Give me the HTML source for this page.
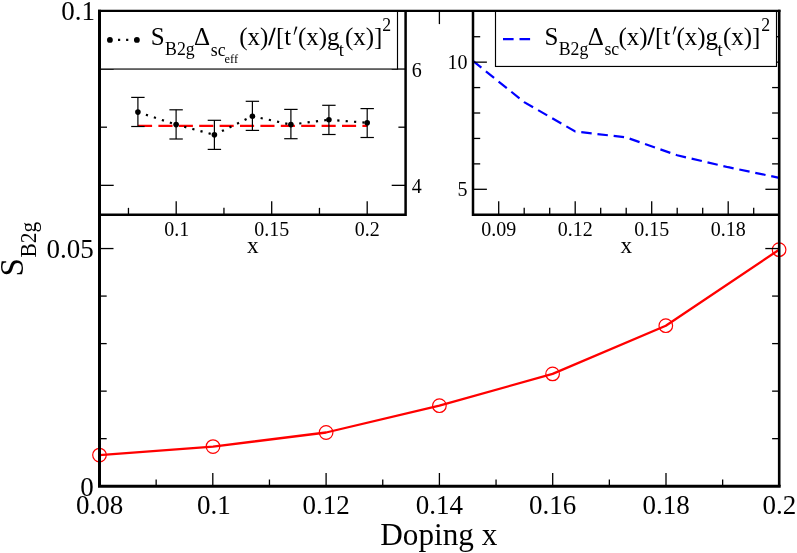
<!DOCTYPE html>
<html><head><meta charset="utf-8"><title>chart</title>
<style>html,body{margin:0;padding:0;background:#fff;}svg{display:block;will-change:transform;}</style></head>
<body>
<svg width="797" height="553" viewBox="0 0 797 553" font-family="'Liberation Serif', serif" fill="#000">
<rect width="797" height="553" fill="#fff"/>
<polyline fill="none" stroke="#f00" stroke-width="2.3" stroke-linejoin="round" points="99.5,455.1 213.0,446.6 326.1,432.5 439.4,405.7 552.6,373.9 665.8,325.7 779.1,249.7"/>
<circle cx="99.5" cy="455.1" r="6.8" fill="none" stroke="#f00" stroke-width="1.2"/>
<circle cx="213.0" cy="446.6" r="6.8" fill="none" stroke="#f00" stroke-width="1.2"/>
<circle cx="326.1" cy="432.5" r="6.8" fill="none" stroke="#f00" stroke-width="1.2"/>
<circle cx="439.4" cy="405.7" r="6.8" fill="none" stroke="#f00" stroke-width="1.2"/>
<circle cx="552.6" cy="373.9" r="6.8" fill="none" stroke="#f00" stroke-width="1.2"/>
<circle cx="665.8" cy="325.7" r="6.8" fill="none" stroke="#f00" stroke-width="1.2"/>
<circle cx="779.1" cy="249.7" r="6.8" fill="none" stroke="#f00" stroke-width="1.2"/>
<line x1="156.15" y1="486.20" x2="156.15" y2="479.50" stroke="#000" stroke-width="1.3" />
<line x1="212.80" y1="486.20" x2="212.80" y2="473.00" stroke="#000" stroke-width="1.3" />
<line x1="269.45" y1="486.20" x2="269.45" y2="479.50" stroke="#000" stroke-width="1.3" />
<line x1="326.10" y1="486.20" x2="326.10" y2="473.00" stroke="#000" stroke-width="1.3" />
<line x1="382.75" y1="486.20" x2="382.75" y2="479.50" stroke="#000" stroke-width="1.3" />
<line x1="439.40" y1="486.20" x2="439.40" y2="473.00" stroke="#000" stroke-width="1.3" />
<line x1="439.40" y1="10.90" x2="439.40" y2="24.10" stroke="#000" stroke-width="1.3" />
<line x1="496.05" y1="486.20" x2="496.05" y2="479.50" stroke="#000" stroke-width="1.3" />
<line x1="552.70" y1="486.20" x2="552.70" y2="473.00" stroke="#000" stroke-width="1.3" />
<line x1="609.35" y1="486.20" x2="609.35" y2="479.50" stroke="#000" stroke-width="1.3" />
<line x1="666.00" y1="486.20" x2="666.00" y2="473.00" stroke="#000" stroke-width="1.3" />
<line x1="722.65" y1="486.20" x2="722.65" y2="479.50" stroke="#000" stroke-width="1.3" />
<line x1="99.50" y1="438.67" x2="106.70" y2="438.67" stroke="#000" stroke-width="1.3" />
<line x1="779.30" y1="438.67" x2="772.10" y2="438.67" stroke="#000" stroke-width="1.3" />
<line x1="99.50" y1="391.14" x2="106.70" y2="391.14" stroke="#000" stroke-width="1.3" />
<line x1="779.30" y1="391.14" x2="772.10" y2="391.14" stroke="#000" stroke-width="1.3" />
<line x1="99.50" y1="343.61" x2="106.70" y2="343.61" stroke="#000" stroke-width="1.3" />
<line x1="779.30" y1="343.61" x2="772.10" y2="343.61" stroke="#000" stroke-width="1.3" />
<line x1="99.50" y1="296.08" x2="106.70" y2="296.08" stroke="#000" stroke-width="1.3" />
<line x1="779.30" y1="296.08" x2="772.10" y2="296.08" stroke="#000" stroke-width="1.3" />
<line x1="99.50" y1="248.55" x2="113.50" y2="248.55" stroke="#000" stroke-width="1.3" />
<line x1="779.30" y1="248.55" x2="765.30" y2="248.55" stroke="#000" stroke-width="1.3" />
<text x="99.50" y="514.10" font-size="27" text-anchor="middle" >0.08</text>
<text x="213.80" y="514.10" font-size="27" text-anchor="middle" >0.1</text>
<text x="326.10" y="514.10" font-size="27" text-anchor="middle" >0.12</text>
<text x="439.40" y="514.10" font-size="27" text-anchor="middle" >0.14</text>
<text x="552.70" y="514.10" font-size="27" text-anchor="middle" >0.16</text>
<text x="666.00" y="514.10" font-size="27" text-anchor="middle" >0.18</text>
<text x="779.30" y="514.10" font-size="27" text-anchor="middle" >0.2</text>
<text x="93.80" y="495.70" font-size="27" text-anchor="end" >0</text>
<text x="93.80" y="258.05" font-size="27" text-anchor="end" >0.05</text>
<text x="95.10" y="20.40" font-size="27" text-anchor="end" >0.1</text>
<text x="438.80" y="545.20" font-size="31.2" text-anchor="middle" >Doping x</text>
<g transform="translate(23.4,276.6) rotate(-90)"><text x="0" y="0" font-size="33">S</text></g>
<g transform="translate(36.0,257.4) rotate(-90) scale(0.955,1)"><text x="0" y="0" font-size="22.4">B2g</text></g>
<line x1="138.00" y1="125.80" x2="367.20" y2="125.80" stroke="#f00" stroke-width="2.2" stroke-dasharray="14.1 6.3"/>
<line x1="137.90" y1="112.10" x2="176.10" y2="124.60" stroke="#000" stroke-width="2.2" stroke-dasharray="2.2 6.2"/>
<line x1="176.10" y1="124.60" x2="214.40" y2="134.80" stroke="#000" stroke-width="2.2" stroke-dasharray="2.2 6.2"/>
<line x1="214.40" y1="134.80" x2="252.40" y2="116.20" stroke="#000" stroke-width="2.2" stroke-dasharray="2.2 6.2"/>
<line x1="252.40" y1="116.20" x2="290.90" y2="124.60" stroke="#000" stroke-width="2.2" stroke-dasharray="2.2 6.2"/>
<line x1="290.90" y1="124.60" x2="328.90" y2="119.70" stroke="#000" stroke-width="2.2" stroke-dasharray="2.2 6.2"/>
<line x1="328.90" y1="119.70" x2="367.20" y2="122.80" stroke="#000" stroke-width="2.2" stroke-dasharray="2.2 6.2"/>
<line x1="137.90" y1="97.40" x2="137.90" y2="126.50" stroke="#000" stroke-width="1.2" />
<line x1="131.20" y1="97.40" x2="144.60" y2="97.40" stroke="#000" stroke-width="1.2" />
<line x1="131.20" y1="126.50" x2="144.60" y2="126.50" stroke="#000" stroke-width="1.2" />
<circle cx="137.9" cy="112.1" r="2.8"/>
<line x1="176.10" y1="109.80" x2="176.10" y2="139.00" stroke="#000" stroke-width="1.2" />
<line x1="169.40" y1="109.80" x2="182.80" y2="109.80" stroke="#000" stroke-width="1.2" />
<line x1="169.40" y1="139.00" x2="182.80" y2="139.00" stroke="#000" stroke-width="1.2" />
<circle cx="176.1" cy="124.6" r="2.8"/>
<line x1="214.40" y1="120.30" x2="214.40" y2="149.40" stroke="#000" stroke-width="1.2" />
<line x1="207.70" y1="120.30" x2="221.10" y2="120.30" stroke="#000" stroke-width="1.2" />
<line x1="207.70" y1="149.40" x2="221.10" y2="149.40" stroke="#000" stroke-width="1.2" />
<circle cx="214.4" cy="134.8" r="2.8"/>
<line x1="252.40" y1="101.30" x2="252.40" y2="130.40" stroke="#000" stroke-width="1.2" />
<line x1="245.70" y1="101.30" x2="259.10" y2="101.30" stroke="#000" stroke-width="1.2" />
<line x1="245.70" y1="130.40" x2="259.10" y2="130.40" stroke="#000" stroke-width="1.2" />
<circle cx="252.4" cy="116.2" r="2.8"/>
<line x1="290.90" y1="109.40" x2="290.90" y2="138.70" stroke="#000" stroke-width="1.2" />
<line x1="284.20" y1="109.40" x2="297.60" y2="109.40" stroke="#000" stroke-width="1.2" />
<line x1="284.20" y1="138.70" x2="297.60" y2="138.70" stroke="#000" stroke-width="1.2" />
<circle cx="290.9" cy="124.6" r="2.8"/>
<line x1="328.90" y1="105.30" x2="328.90" y2="134.50" stroke="#000" stroke-width="1.2" />
<line x1="322.20" y1="105.30" x2="335.60" y2="105.30" stroke="#000" stroke-width="1.2" />
<line x1="322.20" y1="134.50" x2="335.60" y2="134.50" stroke="#000" stroke-width="1.2" />
<circle cx="328.9" cy="119.7" r="2.8"/>
<line x1="367.20" y1="108.60" x2="367.20" y2="137.50" stroke="#000" stroke-width="1.2" />
<line x1="360.50" y1="108.60" x2="373.90" y2="108.60" stroke="#000" stroke-width="1.2" />
<line x1="360.50" y1="137.50" x2="373.90" y2="137.50" stroke="#000" stroke-width="1.2" />
<circle cx="367.2" cy="122.8" r="2.8"/>
<line x1="128.45" y1="214.85" x2="128.45" y2="207.85" stroke="#000" stroke-width="1.3" />
<line x1="176.20" y1="214.85" x2="176.20" y2="201.35" stroke="#000" stroke-width="1.3" />
<line x1="223.95" y1="214.85" x2="223.95" y2="207.85" stroke="#000" stroke-width="1.3" />
<line x1="271.70" y1="214.85" x2="271.70" y2="201.35" stroke="#000" stroke-width="1.3" />
<line x1="319.45" y1="214.85" x2="319.45" y2="207.85" stroke="#000" stroke-width="1.3" />
<line x1="367.20" y1="214.85" x2="367.20" y2="201.35" stroke="#000" stroke-width="1.3" />
<line x1="99.50" y1="185.35" x2="113.70" y2="185.35" stroke="#000" stroke-width="1.3" />
<line x1="405.60" y1="185.35" x2="391.70" y2="185.35" stroke="#000" stroke-width="1.3" />
<line x1="99.50" y1="127.20" x2="107.00" y2="127.20" stroke="#000" stroke-width="1.3" />
<line x1="405.60" y1="127.20" x2="398.40" y2="127.20" stroke="#000" stroke-width="1.3" />
<line x1="99.50" y1="69.05" x2="113.70" y2="69.05" stroke="#000" stroke-width="1.3" />
<line x1="405.60" y1="69.05" x2="391.70" y2="69.05" stroke="#000" stroke-width="1.3" />
<text x="176.70" y="235.60" font-size="20" text-anchor="middle" >0.1</text>
<text x="271.70" y="235.60" font-size="20" text-anchor="middle" >0.15</text>
<text x="367.20" y="235.60" font-size="20" text-anchor="middle" >0.2</text>
<text x="411.70" y="76.55" font-size="20" text-anchor="start" >6</text>
<text x="411.70" y="192.85" font-size="20" text-anchor="start" >4</text>
<text x="252.70" y="253.20" font-size="23.2" text-anchor="middle" >x</text>
<polyline fill="none" stroke="#00f" stroke-width="2.2" stroke-dasharray="10.5 5.8" points="473.2,61.1 524.2,102.1 575.2,131.5 626.2,137.4 677.2,155.3 728.2,167.2 779.2,177.8"/>
<line x1="498.70" y1="214.85" x2="498.70" y2="201.35" stroke="#000" stroke-width="1.3" />
<line x1="524.20" y1="214.85" x2="524.20" y2="207.85" stroke="#000" stroke-width="1.3" />
<line x1="549.70" y1="214.85" x2="549.70" y2="207.85" stroke="#000" stroke-width="1.3" />
<line x1="575.20" y1="214.85" x2="575.20" y2="201.35" stroke="#000" stroke-width="1.3" />
<line x1="600.70" y1="214.85" x2="600.70" y2="207.85" stroke="#000" stroke-width="1.3" />
<line x1="626.20" y1="214.85" x2="626.20" y2="207.85" stroke="#000" stroke-width="1.3" />
<line x1="651.70" y1="214.85" x2="651.70" y2="201.35" stroke="#000" stroke-width="1.3" />
<line x1="677.20" y1="214.85" x2="677.20" y2="207.85" stroke="#000" stroke-width="1.3" />
<line x1="702.70" y1="214.85" x2="702.70" y2="207.85" stroke="#000" stroke-width="1.3" />
<line x1="728.20" y1="214.85" x2="728.20" y2="201.35" stroke="#000" stroke-width="1.3" />
<line x1="753.70" y1="214.85" x2="753.70" y2="207.85" stroke="#000" stroke-width="1.3" />
<line x1="473.00" y1="189.30" x2="486.90" y2="189.30" stroke="#000" stroke-width="1.3" />
<line x1="779.30" y1="189.30" x2="765.40" y2="189.30" stroke="#000" stroke-width="1.3" />
<line x1="473.00" y1="163.87" x2="480.20" y2="163.87" stroke="#000" stroke-width="1.3" />
<line x1="779.30" y1="163.87" x2="772.10" y2="163.87" stroke="#000" stroke-width="1.3" />
<line x1="473.00" y1="138.44" x2="480.20" y2="138.44" stroke="#000" stroke-width="1.3" />
<line x1="779.30" y1="138.44" x2="772.10" y2="138.44" stroke="#000" stroke-width="1.3" />
<line x1="473.00" y1="113.01" x2="480.20" y2="113.01" stroke="#000" stroke-width="1.3" />
<line x1="779.30" y1="113.01" x2="772.10" y2="113.01" stroke="#000" stroke-width="1.3" />
<line x1="473.00" y1="87.58" x2="480.20" y2="87.58" stroke="#000" stroke-width="1.3" />
<line x1="779.30" y1="87.58" x2="772.10" y2="87.58" stroke="#000" stroke-width="1.3" />
<line x1="473.00" y1="62.15" x2="486.90" y2="62.15" stroke="#000" stroke-width="1.3" />
<line x1="779.30" y1="62.15" x2="765.40" y2="62.15" stroke="#000" stroke-width="1.3" />
<line x1="473.00" y1="36.72" x2="480.20" y2="36.72" stroke="#000" stroke-width="1.3" />
<line x1="779.30" y1="36.72" x2="772.10" y2="36.72" stroke="#000" stroke-width="1.3" />
<text x="498.70" y="235.60" font-size="20" text-anchor="middle" >0.09</text>
<text x="575.20" y="235.60" font-size="20" text-anchor="middle" >0.12</text>
<text x="651.70" y="235.60" font-size="20" text-anchor="middle" >0.15</text>
<text x="728.20" y="235.60" font-size="20" text-anchor="middle" >0.18</text>
<text x="467.60" y="69.15" font-size="20" text-anchor="end" >10</text>
<text x="467.60" y="196.30" font-size="20" text-anchor="end" >5</text>
<text x="626.20" y="253.20" font-size="23.2" text-anchor="middle" >x</text>
<rect x="99.50" y="10.90" width="298.00" height="58.15" fill="#fff" stroke="#000" stroke-width="1.15"/>
<line x1="109.9" y1="39.9" x2="136.9" y2="39.9" stroke="#000" stroke-width="2.2" stroke-dasharray="2.2 5.9"/>
<circle cx="109.9" cy="39.9" r="2.9"/><circle cx="136.9" cy="39.9" r="2.9"/>
<text x="150.80" y="45.40" font-size="25">S</text>
<text x="165.10" y="55.20" font-size="17.8">B2g</text>
<text x="194.10" y="45.40" font-size="25">&#916;</text>
<text x="210.80" y="55.60" font-size="17.8">sc</text>
<text x="224.60" y="63.10" font-size="12.4">eff</text>
<text x="239.30" y="45.40" font-size="25">(x)</text>
<path d="M268.10,45.30 L270.00,45.30 L275.80,27.80 L273.90,27.80 Z"/>
<text x="276.00" y="45.40" font-size="25">[t</text>
<path d="M295.60,26.60 L297.50,26.80 L294.30,34.90 L293.60,34.70 Z"/>
<text x="297.90" y="45.40" font-size="25">(x)g</text>
<text x="338.70" y="55.80" font-size="18.4">t</text>
<text x="344.90" y="45.40" font-size="25">(x)]</text>
<text x="382.20" y="31.10" font-size="17.8">2</text>
<rect x="495.5" y="10.90" width="281.00" height="55.55" fill="#fff" stroke="#000" stroke-width="1.15"/>
<line x1="503" y1="39.1" x2="530.2" y2="39.1" stroke="#00f" stroke-width="2.2" stroke-dasharray="10.6 5.9"/>
<text x="544.40" y="45.20" font-size="25">S</text>
<text x="558.70" y="55.00" font-size="17.8">B2g</text>
<text x="587.70" y="45.20" font-size="25">&#916;</text>
<text x="604.40" y="55.40" font-size="17.8">sc</text>
<text x="618.40" y="45.20" font-size="25">(x)</text>
<path d="M647.20,45.10 L649.10,45.10 L654.90,27.60 L653.00,27.60 Z"/>
<text x="655.10" y="45.20" font-size="25">[t</text>
<path d="M674.70,26.40 L676.60,26.60 L673.40,34.70 L672.70,34.50 Z"/>
<text x="676.40" y="45.20" font-size="25">(x)g</text>
<text x="717.60" y="55.60" font-size="18.4">t</text>
<text x="722.90" y="45.20" font-size="25">(x)]</text>
<text x="761.30" y="30.90" font-size="17.8">2</text>
<path d="M99.50,9.80 V486.20 H780.70" fill="none" stroke="#000" stroke-width="3" stroke-linejoin="miter"/>
<line x1="779.20" y1="9.80" x2="779.20" y2="486.20" stroke="#000" stroke-width="2.6"/>
<path d="M99.50,214.85 H405.60 V10.90" fill="none" stroke="#000" stroke-width="2.5"/>
<path d="M473.00,10.90 V214.85 H779.30" fill="none" stroke="#000" stroke-width="2.5"/>
<line x1="98.00" y1="10.95" x2="780.50" y2="10.95" stroke="#000" stroke-width="2.3" />
</svg>
</body></html>
